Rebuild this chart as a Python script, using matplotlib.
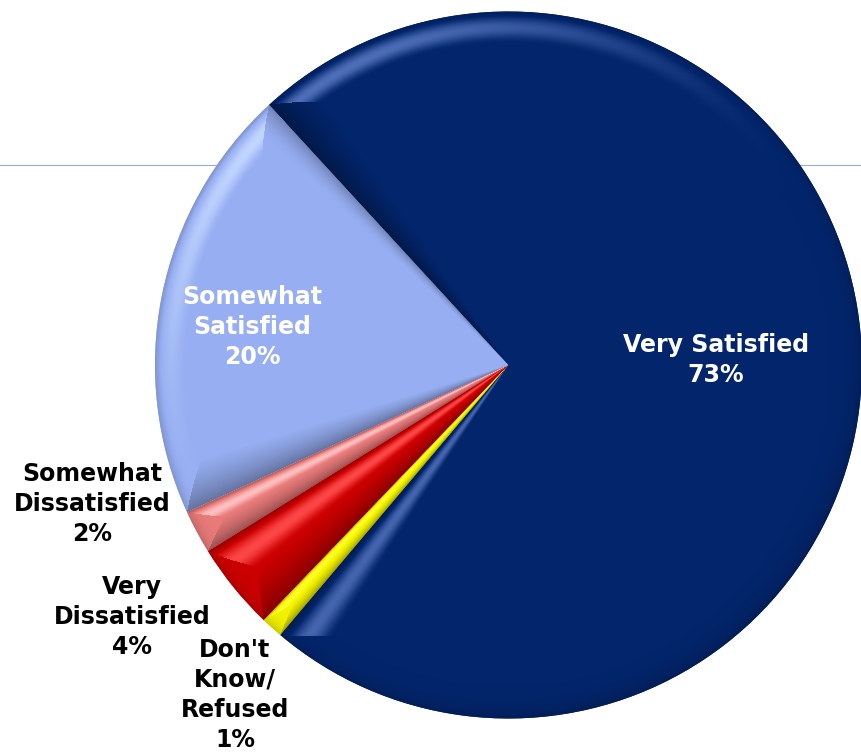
import numpy as np
import matplotlib
matplotlib.use("Agg")
import matplotlib.pyplot as plt
from matplotlib.colors import to_rgb

W, H = 862, 752

categories = ["Somewhat\nSatisfied", "Somewhat\nDissatisfied", "Very\nDissatisfied",
              "Don't\nKnow/\nRefused", "Very Satisfied"]
values = [20, 2, 4, 1, 73]
base_colors = ["#97aef2", "#e87a7a", "#cc0000", "#f4f400", "#03256c"]
high_colors = ["#c6daff", "#ffc4c4", "#ff4a4a", "#ffff30", "#4f70b8"]
label_colors = ["white", "black", "black", "black", "white"]
# label centres in pixels, y from the top
label_pos = [(252, 327), (92, 504), (132, 617), (235, 695), (716, 360)]

CX, CY, R = 508.5, 387, 353.5
RIM_BEVEL = 32.0
SIDE_BEVEL = 46.0
LIGHT = 122.0


def bevel_shade(theta1, theta2):
    """Shade in -1..1 per pixel for one wedge, from its nearest edge."""
    xx, yy = np.meshgrid(np.arange(W) + 0.5, H - np.arange(H) - 0.5)
    dx, dy = xx - CX, yy - CY
    r = np.hypot(dx, dy) + 1e-6
    ang = np.degrees(np.arctan2(dy, dx))
    a1 = (ang - theta1) % 360
    a2 = (theta2 - ang) % 360
    half = np.radians(theta2 - theta1) / 2
    # side bevel narrows towards the apex, and can't pass the wedge middle
    bs = SIDE_BEVEL * r / R
    if half < np.pi / 2:
        bs = np.minimum(bs, r * np.sin(half))
    d1 = r * np.sin(np.radians(np.minimum(a1, 90)))
    d2 = r * np.sin(np.radians(np.minimum(a2, 90)))
    t1, t2 = d1 / bs, d2 / bs
    t3 = np.maximum(R - r, 0) / RIM_BEVEL

    shade = np.zeros_like(r)
    for t, norm, side in [(t1, theta1 - 90, True), (t2, theta2 + 90, True),
                          (t3, ang, False)]:
        near = (t <= t1) & (t <= t2) & (t <= t3) & (t < 1)
        L = np.cos(np.radians(norm - LIGHT)) * np.ones_like(r)
        hump = np.sin(np.pi * np.clip(t, 0, 1)) ** 2
        lit = np.clip(L, 0, 1) ** 2 * hump
        if side:
            dark = np.where(L < 0, 0.42 * (1 - t) + 0.15 * (1 - t) ** 3, 0.4 * (1 - t) ** 3)
        else:
            dark = np.clip(-L, 0, 1) * 0.12 * (1 - t) + 0.25 * (1 - t) ** 5
        shade[near] = (lit - dark)[near]
    return np.clip(shade, -1, 1)


def shaded_image(shade, base, high):
    base, high = np.array(to_rgb(base)), np.array(to_rgb(high))
    s = shade[..., None]
    return np.where(s > 0, base + (high - base) * s, base * (1 + 0.6 * s))


fig = plt.figure(figsize=(W / 100, H / 100), dpi=100)
ax = fig.add_axes([0, 0, 1, 1])

wedges, _ = ax.pie(values, colors=base_colors, startangle=132.6, counterclock=True,
                   center=(CX, CY), radius=R)

for wedge, base, high in zip(wedges, base_colors, high_colors):
    img = shaded_image(bevel_shade(wedge.theta1, wedge.theta2), base, high)
    im = ax.imshow(img, extent=(0, W, 0, H), origin="upper", interpolation="bilinear",
                   zorder=2)
    im.set_clip_path(wedge)

# thin slide rule behind the pie
ax.plot([0, W], [H - 165, H - 165], color="#9aaad8", lw=0.8, zorder=0)

for cat, val, col, (px, py) in zip(categories, values, label_colors, label_pos):
    ax.text(px, H - py, f"{cat}\n{val}%", color=col, ha="center", va="center",
            fontsize=17, fontweight="bold", linespacing=1.33, zorder=5,
            family="DejaVu Sans")

ax.set_xlim(0, W)
ax.set_ylim(0, H)
ax.set_aspect("auto")
ax.axis("off")
fig.savefig("out.png", dpi=100)
